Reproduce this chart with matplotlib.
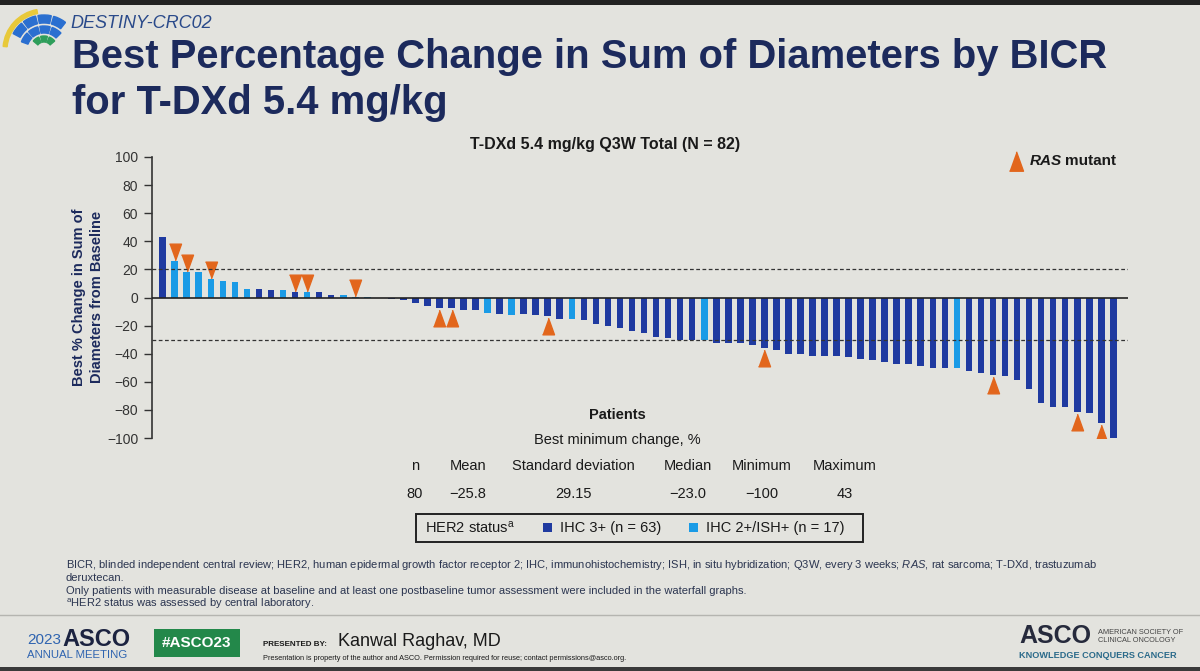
import matplotlib
matplotlib.use('Agg')
import matplotlib.pyplot as plt
from matplotlib.patches import Rectangle, Wedge

plt.rcParams['font.family'] = ['Liberation Sans', 'DejaVu Sans']
plt.rcParams['mathtext.fontset'] = 'custom'
plt.rcParams['mathtext.rm'] = 'Liberation Sans'
plt.rcParams['mathtext.it'] = 'Liberation Sans:italic'
plt.rcParams['mathtext.bf'] = 'Liberation Sans:bold'

# best % change per patient (sorted), HER2 group, RAS mutant flag
change = [43, 26, 18, 18, 13, 12, 11, 6, 6, 5,
          5, 4, 4, 4, 2, 2, 0.4, 0.3, -0.6, -0.8,
          -2, -3.8, -5.9, -7.6, -7.6, -9, -9, -10.7, -11.9, -12.1,
          -11.9, -12.8, -13.5, -15, -15, -15.9, -19, -20.4, -21.6, -23.5,
          -25.6, -27.8, -28.9, -29.9, -29.9, -29.9, -32.5, -32.5, -32.5, -33.5,
          -35.8, -37.7, -40, -40.3, -41.5, -41.5, -41.7, -42.4, -43.8, -44.8,
          -45.7, -47.1, -47.1, -48.7, -50.4, -50.4, -50.4, -52, -53.7, -55.5,
          -56.2, -58.6, -64.9, -75, -78, -78, -81.3, -82.3, -89.3, -100]
light_idx = [1, 2, 3, 4, 5, 6, 7, 10, 12, 15, 16, 17, 27, 29, 34, 45, 66]
ras_idx = [1, 2, 4, 11, 12, 16, 23, 24, 32, 50, 69, 76, 78]

stat_heads = ['n', 'Mean', 'Standard deviation', 'Median', 'Minimum', 'Maximum']
stat_vals = ['80', '\u221225.8', '29.15', '\u221223.0', '\u2212100', '43']

DARK = '#1f3aa0'
LIGHT = '#1a9be6'
ORANGE = '#e2661c'
NAVY = '#1c2a5c'
BG = '#e3e3de'

W, H = 1200, 671
fig = plt.figure(figsize=(W / 100, H / 100), dpi=100, facecolor=BG)

def fx(x): return x / W
def fy(y): return 1 - y / H

def T(x, y, s, **kw):
	kw.setdefault('va', 'center')
	kw.setdefault('color', '#1a1a1a')
	return fig.text(fx(x), fy(y), s, **kw)

def box(x0, y0, x1, y1, **kw):
	fig.add_artist(Rectangle((fx(x0), fy(y1)), fx(x1) - fx(x0), fy(y0) - fy(y1),
		transform=fig.transFigure, **kw))

# dark edges of the photo
box(0, 0, W, 5, color='#222222', lw=0)
box(0, 667, W, H, color='#3a3a3a', lw=0)

# logo
lax = fig.add_axes([fx(2), fy(52), fx(66) - fx(2), fy(4) - fy(52)])
lax.set_xlim(0, 64); lax.set_ylim(0, 48); lax.set_aspect('equal'); lax.axis('off')
c = (42, 2)
lax.add_patch(Wedge(c, 41, 100, 175, width=4, color='#e8c93a'))
for a in [(52, 74), (78, 100), (104, 126), (130, 152)]:
	lax.add_patch(Wedge(c, 35, a[0], a[1], width=8, color='#2a6fd0'))
for a in [(45, 70), (75, 100), (105, 130), (135, 160)]:
	lax.add_patch(Wedge(c, 24, a[0], a[1], width=7, color='#2a6fd0'))
for a in [(40, 68), (76, 104), (112, 140)]:
	lax.add_patch(Wedge(c, 14, a[0], a[1], width=6, color='#2e9e5a'))

T(70, 23, 'DESTINY-CRC02', fontsize=13, style='italic', color='#2a4a8a')
T(72, 57, 'Best Percentage Change in Sum of Diameters by BICR', fontsize=28.8,
	fontweight='bold', color=NAVY)
T(72, 103, 'for T-DXd 5.4 mg/kg', fontsize=28.8, fontweight='bold', color=NAVY)

# waterfall
ax = fig.add_axes([fx(152), fy(438), fx(1128) - fx(152), fy(157) - fy(438)])
ax.set_facecolor('none')
x = list(range(len(change)))
colors = [LIGHT if i in light_idx else DARK for i in x]
ax.bar(x, change, width=0.55, color=colors, zorder=2)
ras_y = [change[i] + 6.5 if change[i] > 0 else change[i] - 7 for i in ras_idx]
down = [(-0.36, 0.5), (0.36, 0.5), (0, -0.5)]
up = [(-0.36, -0.5), (0.36, -0.5), (0, 0.5)]
for xi, yi in zip(ras_idx, ras_y):
	ax.plot(xi, yi, marker=down if change[xi] > 0 else up, markersize=12, color=ORANGE,
		linestyle='none', zorder=3)
ax.axhline(0, color='#222222', lw=1.2, zorder=4)
ax.axhline(20, color='#333333', lw=0.9, ls=(0, (3, 2)), zorder=4)
ax.axhline(-30, color='#333333', lw=0.9, ls=(0, (3, 2)), zorder=4)
ax.set_xlim(-0.89, 80.22)
ax.set_ylim(-100, 100)
ax.set_yticks(range(-100, 101, 20))
ax.set_yticklabels([str(v).replace('-', '\u2212') for v in range(-100, 101, 20)],
	fontsize=10, color='#333333')
ax.tick_params(axis='y', length=6, width=1, color='#333333', pad=4)
ax.set_xticks([])
for s in ['top', 'right', 'bottom']:
	ax.spines[s].set_visible(False)
ax.spines['left'].set_color('#333333')
ax.spines['left'].set_linewidth(1.2)

T(88, 297, 'Best % Change in Sum of\nDiameters from Baseline', fontsize=10.5,
	fontweight='bold', rotation=90, ha='center', color=NAVY, linespacing=1.3)
T(605, 144, 'T-DXd 5.4 mg/kg Q3W Total (N = 82)', fontsize=11.5, fontweight='bold',
	ha='center')
ax.plot([fx(1016)], [fy(161)], transform=fig.transFigure, marker=up, markersize=14,
	color=ORANGE, linestyle='none', clip_on=False)
T(1030, 161, 'RAS', fontsize=11, fontweight='bold', style='italic')
T(1065, 161, 'mutant', fontsize=11, fontweight='bold')

# summary table
T(617, 415, 'Patients', fontsize=10.5, fontweight='bold', ha='center')
T(617, 440, 'Best minimum change, %', fontsize=10.5, ha='center')
cols = [415, 468, 573, 688, 762, 845]
for cx, h, v in zip(cols, stat_heads, stat_vals):
	T(cx, 466, h, fontsize=10.5, ha='center')
	T(cx, 494, v, fontsize=10.5, ha='center')

box(416, 514, 863, 542, facecolor='none', edgecolor='#222222', lw=1.4)
T(425, 528, 'HER2 status$^{\\mathregular{a}}$', fontsize=10.5)
box(543, 523, 552, 532, color=DARK, lw=0)
T(560, 528, 'IHC 3+ (n = 63)', fontsize=10.5)
box(689, 523, 698, 532, color=LIGHT, lw=0)
T(706, 528, 'IHC 2+/ISH+ (n = 17)', fontsize=10.5)

# footnotes
fn = dict(fontsize=8.05, color='#2b3550')
T(66, 565, 'BICR, blinded independent central review; HER2, human epidermal growth factor '
	'receptor 2; IHC, immunohistochemistry; ISH, in situ hybridization; Q3W, every 3 weeks; '
	'$\\it{RAS}$, rat sarcoma; T-DXd, trastuzumab', **fn)
T(66, 578, 'deruxtecan.', **fn)
T(66, 591, 'Only patients with measurable disease at baseline and at least one postbaseline '
	'tumor assessment were included in the waterfall graphs.', **fn)
T(66, 604, '$^{\\mathregular{a}}$HER2 status was assessed by central laboratory.', **fn)

# footer
fig.add_artist(plt.Line2D([0, 1], [fy(615), fy(615)], transform=fig.transFigure,
	color='#b5b5b0', lw=1))
T(27, 640, '2023', fontsize=11, color='#2f64b0')
T(62, 639, 'ASCO', fontsize=17, fontweight='bold', color='#1c2340')
T(27, 655, 'ANNUAL MEETING', fontsize=8.2, color='#2f64b0')
box(154, 629, 240, 657, color='#23884a', lw=0)
T(197, 643, '#ASCO23', fontsize=11, fontweight='bold', color='white', ha='center')
T(263, 644, 'PRESENTED BY:', fontsize=5.8, fontweight='bold')
T(338, 641, 'Kanwal Raghav, MD', fontsize=13)
T(263, 659, 'Presentation is property of the author and ASCO. Permission required for reuse; '
	'contact permissions@asco.org.', fontsize=5.3)
T(1019, 636, 'ASCO', fontsize=18, fontweight='bold', color='#262a3c')
T(1098, 636, 'AMERICAN SOCIETY OF\nCLINICAL ONCOLOGY', fontsize=5.3, color='#444444',
	linespacing=1.2)
T(1019, 655, 'KNOWLEDGE CONQUERS CANCER', fontsize=6.6, fontweight='bold', color='#2a6a8a')

fig.savefig('out.png', dpi=100, facecolor=BG)
